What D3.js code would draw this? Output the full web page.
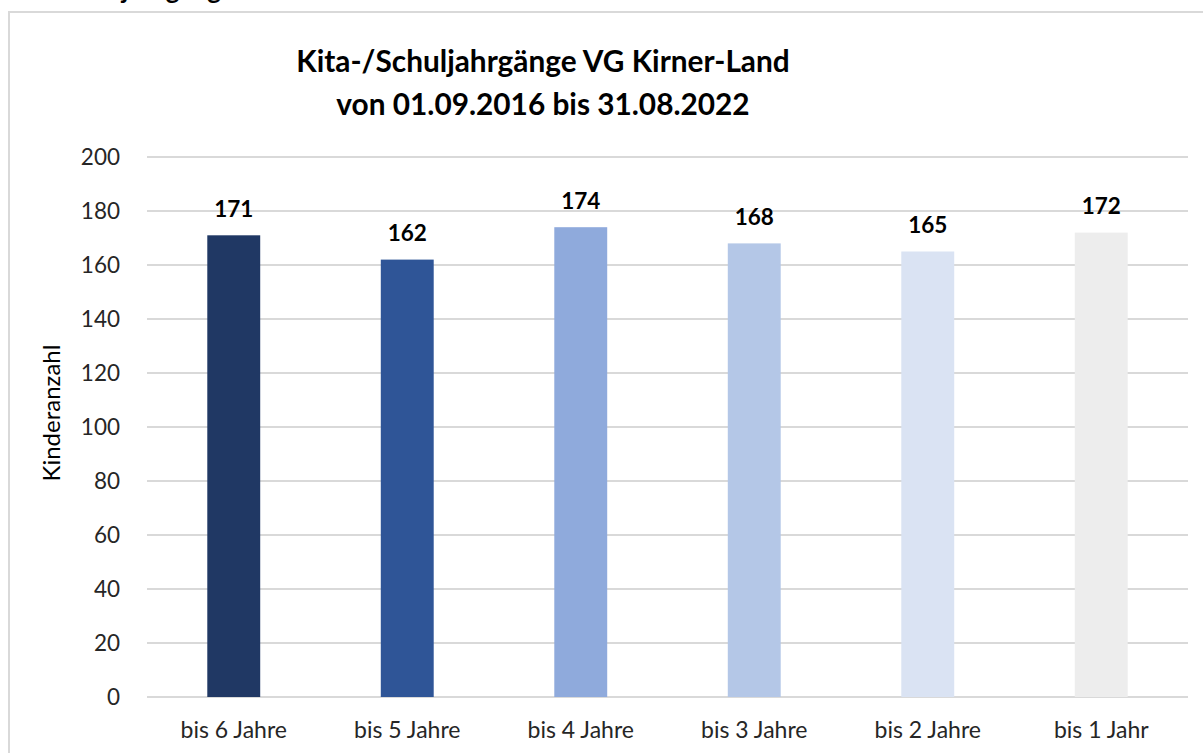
<!DOCTYPE html>
<html lang="de">
<head>
<meta charset="UTF-8">
<title>Kita-/Schuljahrgänge VG Kirner-Land</title>
<script src="https://cdn.jsdelivr.net/npm/d3@7"></script>
<style>
  body { margin: 0; background: #fff; }
  svg { display: block; font-family: Lato, "Open Sans", sans-serif; }
</style>
</head>
<body>
<script>
// chart values
var categories = ["bis 6 Jahre", "bis 5 Jahre", "bis 4 Jahre", "bis 3 Jahre", "bis 2 Jahre", "bis 1 Jahr"];
var values = [171, 162, 174, 168, 165, 172];
var barColors = ["#203864", "#2f5597", "#8faadc", "#b4c7e7", "#dae3f3", "#ededed"];
var yTicks = [0, 20, 40, 60, 80, 100, 120, 140, 160, 180, 200];
var titleLines = ["Kita-/Schuljahrgänge VG Kirner-Land", "von 01.09.2016 bis 31.08.2022"];
var yLabel = "Kinderanzahl";

var w = 1203, h = 753;

var svg = d3.select("body").append("svg")
    .attr("width", w)
    .attr("height", h);

// clipped heading of the page above the chart
svg.append("text")
    .attr("x", -10)
    .attr("y", -1)
    .attr("font-size", 26)
    .attr("font-weight", "bold")
    .attr("fill", "#000")
    .text("Kita-/Schuljahrgänge");

// chart frame (runs off the right and bottom edges)
svg.append("rect")
    .attr("x", 9)
    .attr("y", 12)
    .attr("width", 1300)
    .attr("height", 900)
    .attr("fill", "#fff")
    .attr("stroke", "#d9d9d9")
    .attr("stroke-width", 2);

var x = d3.scaleBand()
    .domain(categories)
    .range([147, 1188])
    .paddingInner(0.695)
    .paddingOuter(0.3475);

var y = d3.scaleLinear()
    .domain([0, 200])
    .range([697, 157]);

// gridlines
svg.selectAll("line.grid")
    .data(yTicks)
    .enter()
    .append("line")
    .attr("class", "grid")
    .attr("x1", 147)
    .attr("x2", 1188)
    .attr("y1", function(d) { return y(d); })
    .attr("y2", function(d) { return y(d); })
    .attr("stroke", "#d9d9d9")
    .attr("stroke-width", 2);

// y tick labels
svg.selectAll("text.ytick")
    .data(yTicks)
    .enter()
    .append("text")
    .attr("class", "ytick")
    .attr("x", 120)
    .attr("y", function(d) { return y(d) + 8; })
    .attr("text-anchor", "end")
    .attr("font-size", 22.5)
    .attr("fill", "#262626")
    .text(function(d) { return d; });

// bars
svg.selectAll("rect.bar")
    .data(values)
    .enter()
    .append("rect")
    .attr("class", "bar")
    .attr("x", function(d, i) { return x(categories[i]); })
    .attr("y", function(d) { return y(d); })
    .attr("width", x.bandwidth())
    .attr("height", function(d) { return y(0) - y(d); })
    .attr("fill", function(d, i) { return barColors[i]; });

// value labels
svg.selectAll("text.val")
    .data(values)
    .enter()
    .append("text")
    .attr("class", "val")
    .attr("x", function(d, i) { return x(categories[i]) + x.bandwidth() / 2; })
    .attr("y", function(d) { return y(d) - 18.5; })
    .attr("text-anchor", "middle")
    .attr("font-size", 22.5)
    .attr("font-weight", "bold")
    .attr("fill", "#000")
    .text(function(d) { return d; });

// category labels
svg.selectAll("text.cat")
    .data(categories)
    .enter()
    .append("text")
    .attr("class", "cat")
    .attr("x", function(d) { return x(d) + x.bandwidth() / 2; })
    .attr("y", 738)
    .attr("text-anchor", "middle")
    .attr("font-size", 23)
    .attr("fill", "#262626")
    .text(function(d) { return d; });

// axis title
svg.append("text")
    .attr("transform", "translate(60,413) rotate(-90)")
    .attr("text-anchor", "middle")
    .attr("font-size", 24)
    .attr("fill", "#000")
    .text(yLabel);

// chart title
svg.selectAll("text.title")
    .data(titleLines)
    .enter()
    .append("text")
    .attr("class", "title")
    .attr("x", 543)
    .attr("y", function(d, i) { return 72 + i * 43; })
    .attr("text-anchor", "middle")
    .attr("font-size", 29.8)
    .attr("font-weight", "bold")
    .attr("fill", "#000")
    .text(function(d) { return d; });
</script>
</body>
</html>
